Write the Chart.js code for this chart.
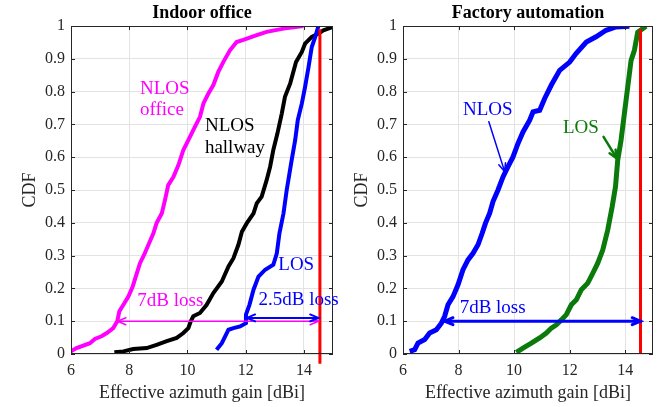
<!DOCTYPE html>
<html>
<head>
<meta charset="utf-8">
<script src="https://cdn.jsdelivr.net/npm/chart.js@4/dist/chart.umd.min.js"></script>
<style>
  body { margin: 0; background: #fff; }
  .plot { position: absolute; top: 0; }
</style>
</head>
<body>
<div class="plot" style="left:0"><canvas id="indoor" width="340" height="407"></canvas></div>
<div class="plot" style="left:332px"><canvas id="factory" width="332" height="407"></canvas></div>
<script>
// Indoor office - NLOS office (magenta)
const officeX = [6.0, 6.19, 6.65, 6.82, 7.05, 7.23, 7.45, 7.59, 7.66, 7.80, 7.97, 8.12, 8.26, 8.37, 8.51, 8.66, 8.83, 8.94, 9.12, 9.23, 9.34, 9.52, 9.69, 9.86, 10.03, 10.26, 10.43, 10.55, 10.72, 10.89, 11.06, 11.23, 11.46, 11.69, 11.92, 12.38, 12.72, 13.3, 13.98];
const officeY = [0.008, 0.018, 0.033, 0.046, 0.054, 0.064, 0.079, 0.10, 0.13, 0.15, 0.175, 0.206, 0.246, 0.277, 0.302, 0.333, 0.368, 0.399, 0.429, 0.47, 0.515, 0.54, 0.576, 0.622, 0.652, 0.693, 0.723, 0.764, 0.794, 0.82, 0.86, 0.89, 0.926, 0.951, 0.958, 0.972, 0.982, 0.992, 1.0];
// Indoor office - NLOS hallway (black)
const hallX = [7.49, 7.80, 8.14, 8.6, 8.94, 9.29, 9.63, 9.86, 10.03, 10.11, 10.2, 10.43, 10.66, 10.89, 11.18, 11.41, 11.58, 11.75, 11.87, 12.04, 12.27, 12.38, 12.55, 12.72, 12.84, 12.95, 13.09, 13.24, 13.35, 13.53, 13.73, 13.93, 14.04, 14.27, 14.5, 14.67, 15.0];
const hallY = [0.005, 0.008, 0.015, 0.018, 0.028, 0.039, 0.049, 0.064, 0.079, 0.099, 0.115, 0.125, 0.15, 0.186, 0.221, 0.267, 0.292, 0.333, 0.373, 0.399, 0.429, 0.459, 0.48, 0.53, 0.571, 0.622, 0.672, 0.733, 0.784, 0.825, 0.89, 0.921, 0.946, 0.967, 0.977, 0.987, 0.997];
// Indoor office - LOS (blue)
const indoorLosX = [11.0, 11.18, 11.41, 11.58, 11.81, 12.01, 12.01, 12.13, 12.27, 12.44, 12.67, 12.95, 13.07, 13.16, 13.3, 13.41, 13.58, 13.7, 13.79, 13.93, 14.04, 14.16, 14.27, 14.39, 14.5];
const indoorLosY = [0.013, 0.033, 0.074, 0.079, 0.084, 0.094, 0.12, 0.15, 0.196, 0.236, 0.257, 0.272, 0.307, 0.368, 0.429, 0.5, 0.591, 0.652, 0.713, 0.764, 0.814, 0.875, 0.936, 0.967, 1.0];

// Factory automation - NLOS (blue)
const factNlosX = [6.24, 6.42, 6.54, 6.78, 6.96, 7.20, 7.38, 7.50, 7.62, 7.80, 7.98, 8.16, 8.34, 8.52, 8.70, 8.85, 8.97, 9.12, 9.24, 9.42, 9.60, 9.78, 9.96, 10.14, 10.32, 10.56, 10.68, 10.92, 11.1, 11.34, 11.64, 12.0, 12.23, 12.6, 12.95, 13.31, 13.67, 14.15];
const factNlosY = [0.008, 0.013, 0.033, 0.044, 0.064, 0.074, 0.094, 0.115, 0.15, 0.175, 0.211, 0.257, 0.287, 0.307, 0.333, 0.368, 0.399, 0.429, 0.465, 0.5, 0.54, 0.571, 0.601, 0.642, 0.677, 0.713, 0.738, 0.743, 0.779, 0.82, 0.865, 0.89, 0.916, 0.951, 0.967, 0.987, 0.997, 0.999];
// Factory automation - LOS (green)
const factLosX = [10.08, 10.32, 10.62, 10.92, 11.16, 11.34, 11.52, 11.70, 11.88, 12.06, 12.24, 12.42, 12.65, 12.83, 13.01, 13.19, 13.37, 13.53, 13.65, 13.73, 13.85, 13.97, 14.09, 14.21, 14.33, 14.45, 14.75];
const factLosY = [0.005, 0.018, 0.033, 0.049, 0.064, 0.079, 0.089, 0.104, 0.12, 0.15, 0.165, 0.196, 0.216, 0.246, 0.277, 0.317, 0.378, 0.449, 0.51, 0.591, 0.652, 0.733, 0.814, 0.895, 0.926, 0.981, 0.999];

// red reference line (max gain)
const maxGain = 14.55;
const xTicks = [6, 8, 10, 12, 14];

const FONT = '"Liberation Serif", "Times New Roman", serif';
const TXT = '#262626';

function toPoints(xs, ys) {
  return xs.map((x, i) => ({ x: x, y: ys[i] }));
}

function curve(xs, ys, color, width) {
  return {
    data: toPoints(xs, ys),
    borderColor: color,
    borderWidth: width,
    pointRadius: 0,
    tension: 0,
    fill: false
  };
}

function drawArrow(ctx, x1, y1, x2, y2, color, width, heads) {
  const size = 9;
  ctx.save();
  ctx.strokeStyle = color;
  ctx.lineWidth = width;
  ctx.lineCap = 'round';
  ctx.beginPath();
  ctx.moveTo(x1, y1);
  ctx.lineTo(x2, y2);
  ctx.stroke();
  const ends = heads === 2 ? [[x2, y2, x1, y1], [x1, y1, x2, y2]] : [[x2, y2, x1, y1]];
  for (const [tx, ty, fx, fy] of ends) {
    const a = Math.atan2(ty - fy, tx - fx);
    ctx.beginPath();
    ctx.moveTo(tx - size * Math.cos(a - 0.4), ty - size * Math.sin(a - 0.4));
    ctx.lineTo(tx, ty);
    ctx.lineTo(tx - size * Math.cos(a + 0.4), ty - size * Math.sin(a + 0.4));
    ctx.stroke();
  }
  ctx.restore();
}

// plugin: box, inward ticks, titles, labels and arrows
const decorPlugin = {
  id: 'decor',
  afterDatasetsDraw(chart) {
    const ctx = chart.ctx;
    const a = chart.chartArea;
    const xs = chart.scales.x;
    const ys = chart.scales.y;
    const opts = chart.options.plugins.decor;

    ctx.save();
    ctx.strokeStyle = TXT;
    ctx.lineWidth = 1;
    ctx.strokeRect(a.left + 0.5, a.top + 0.5, a.right - a.left - 1, a.bottom - a.top - 1);
    ctx.beginPath();
    for (const v of xTicks) {
      const px = Math.round(xs.getPixelForValue(v)) + 0.5;
      ctx.moveTo(px, a.bottom); ctx.lineTo(px, a.bottom - 4);
      ctx.moveTo(px, a.top); ctx.lineTo(px, a.top + 4);
    }
    for (let k = 0; k <= 10; k++) {
      const py = Math.round(ys.getPixelForValue(k / 10)) + 0.5;
      ctx.moveTo(a.left, py); ctx.lineTo(a.left + 4, py);
      ctx.moveTo(a.right, py); ctx.lineTo(a.right - 4, py);
    }
    ctx.stroke();

    // titles
    ctx.fillStyle = '#000';
    ctx.font = 'bold 18px ' + FONT;
    ctx.textAlign = 'center';
    ctx.textBaseline = 'middle';
    ctx.fillText(opts.title, (a.left + a.right) / 2, 13);

    ctx.fillStyle = TXT;
    ctx.font = '18px ' + FONT;
    ctx.fillText('Effective azimuth gain [dBi]', (a.left + a.right) / 2, 393);
    ctx.save();
    ctx.translate(30, (a.top + a.bottom) / 2);
    ctx.rotate(-Math.PI / 2);
    ctx.fillText('CDF', 0, 0);
    ctx.restore();

    // arrows
    for (const ar of opts.arrows) {
      drawArrow(ctx, xs.getPixelForValue(ar.x1), ys.getPixelForValue(ar.y1),
        xs.getPixelForValue(ar.x2), ys.getPixelForValue(ar.y2), ar.color, ar.width, ar.heads);
    }

    // labels
    ctx.font = '19px ' + FONT;
    ctx.textAlign = 'left';
    ctx.textBaseline = 'alphabetic';
    for (const lb of opts.labels) {
      ctx.fillStyle = lb.color;
      ctx.fillText(lb.text, xs.getPixelForValue(lb.x), ys.getPixelForValue(lb.y));
    }
    ctx.restore();
  }
};

function makeChart(id, datasets, rightPad, decor) {
  return new Chart(document.getElementById(id), {
    type: 'line',
    data: { datasets: datasets },
    options: {
      responsive: false,
      animation: false,
      devicePixelRatio: 1,
      layout: { padding: { left: 0, right: rightPad, top: 26, bottom: 0 } },
      plugins: { legend: { display: false }, tooltip: { enabled: false }, decor: decor },
      scales: {
        x: {
          type: 'linear', min: 6, max: 15,
          afterBuildTicks: s => { s.ticks = xTicks.map(v => ({ value: v })); },
          afterFit: s => { s.height = 53; },
          grid: { color: '#e3e3e3', drawTicks: false },
          border: { display: false },
          ticks: { color: TXT, font: { family: FONT, size: 16 }, padding: 7, maxRotation: 0 }
        },
        y: {
          type: 'linear', min: 0, max: 1,
          afterFit: s => { s.width = 71; },
          grid: { color: '#e3e3e3', drawTicks: false },
          border: { display: false },
          ticks: {
            color: TXT, font: { family: FONT, size: 16 }, padding: 6, stepSize: 0.1,
            callback: v => String(Math.round(v * 10) / 10)
          }
        }
      }
    },
    plugins: [decorPlugin]
  });
}

const indoorRed = curve([maxGain, maxGain], [-0.03, 0.99], '#ff0000', 3);
indoorRed.clip = false;

makeChart('indoor', [
  indoorRed,
  curve(indoorLosX, indoorLosY, '#0000ff', 4),
  curve(hallX, hallY, '#000000', 4),
  curve(officeX, officeY, '#ff00ff', 4)
], 7, {
  title: 'Indoor office',
  arrows: [
    { x1: 7.6, y1: 0.1, x2: 14.5, y2: 0.1, color: '#ff00ff', width: 1.5, heads: 2 },
    { x1: 12.04, y1: 0.11, x2: 14.5, y2: 0.11, color: '#0000ff', width: 2, heads: 2 }
  ],
  labels: [
    { text: 'NLOS', x: 8.37, y: 0.792, color: '#ff00ff' },
    { text: 'office', x: 8.37, y: 0.730, color: '#ff00ff' },
    { text: 'NLOS', x: 10.60, y: 0.680, color: '#000000' },
    { text: 'hallway', x: 10.60, y: 0.613, color: '#000000' },
    { text: 'LOS', x: 13.12, y: 0.257, color: '#0000ff' },
    { text: '7dB loss', x: 8.28, y: 0.147, color: '#ff00ff' },
    { text: '2.5dB loss', x: 12.44, y: 0.150, color: '#0000ff' }
  ]
});

makeChart('factory', [
  curve([maxGain, maxGain], [0, 0.99], '#ff0000', 3),
  curve(factLosX, factLosY, '#0a7a0a', 5),
  curve(factNlosX, factNlosY, '#0000ff', 5)
], 11, {
  title: 'Factory automation',
  arrows: [
    { x1: 7.5, y1: 0.1, x2: 14.55, y2: 0.1, color: '#0000ff', width: 3, heads: 2 },
    { x1: 9.09, y1: 0.708, x2: 9.66, y2: 0.556, color: '#0000ff', width: 1.5, heads: 1 },
    { x1: 13.22, y1: 0.662, x2: 13.70, y2: 0.596, color: '#0a7a0a', width: 2.5, heads: 1 }
  ],
  labels: [
    { text: 'NLOS', x: 8.16, y: 0.730, color: '#0000ff' },
    { text: 'LOS', x: 11.76, y: 0.674, color: '#0a7a0a' },
    { text: '7dB loss', x: 8.04, y: 0.125, color: '#0000ff' }
  ]
});
</script>
</body>
</html>
